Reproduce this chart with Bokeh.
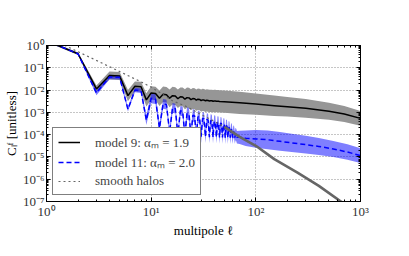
import numpy as np
from bokeh.plotting import figure
from bokeh.models import FixedTicker, CustomJSTickFormatter, LogAxis, Legend, LegendItem
from bokeh.embed import file_html
from bokeh.resources import INLINE

# ---- data (log10 values) ----
# model 9 (alpha_m = 1.9): per multipole up to 45, then sparse
black_ell = list(range(1, 46)) + [50, 70, 100, 150, 200, 300, 500, 700, 1000]
black_log = [0.21, -0.37, -1.95, -1.35, -1.37, -2.25, -1.83, -1.85, -2.44, -2.13,
             -2.15, -2.37, -2.19, -2.21, -2.37, -2.25, -2.27, -2.39, -2.30, -2.31,
             -2.41, -2.34, -2.35, -2.43, -2.38, -2.39, -2.45, -2.41, -2.42, -2.47,
             -2.44, -2.45, -2.48, -2.46, -2.47, -2.49, -2.48, -2.48, -2.50, -2.49,
             -2.49, -2.50, -2.50, -2.50, -2.51,
             -2.52, -2.57, -2.63, -2.70, -2.75, -2.82, -2.95, -3.07, -3.27]
black_err = [0.05, 0.06, 0.15, 0.18, 0.18, 0.25, 0.22, 0.22, 0.30, 0.30,
             0.30, 0.35, 0.35, 0.35, 0.40, 0.40, 0.40, 0.42, 0.42, 0.42,
             0.45, 0.45, 0.45, 0.47, 0.47, 0.47, 0.48, 0.48, 0.48, 0.50,
             0.50, 0.50, 0.50, 0.50, 0.50, 0.50, 0.50, 0.50, 0.50, 0.50,
             0.50, 0.50, 0.50, 0.50, 0.50,
             0.50, 0.50, 0.48, 0.46, 0.44, 0.42, 0.38, 0.36, 0.33]

# model 11 (alpha_m = 2.0): per multipole up to 66, then sparse
blue_ell = list(range(1, 67)) + [70, 80, 100, 130, 170, 220, 300, 400, 550, 750, 1000]
blue_log = [0.21, -0.37, -2.13, -1.41, -1.43, -2.86, -2.00, -2.03, -3.35, -2.37,
            -2.40, -3.71, -2.62, -2.65, -3.89, -2.80, -2.83, -4.01, -2.93, -2.96,
            -4.05, -3.05, -3.08, -4.07, -3.13, -3.16, -4.08, -3.20, -3.23, -4.09,
            -3.27, -3.29, -4.10, -3.32, -3.34, -4.11, -3.37, -3.39, -4.12, -3.41,
            -3.43, -4.12, -3.45, -3.47, -4.13, -3.49, -3.51, -4.13, -3.54, -3.56,
            -4.14, -3.60, -3.62, -4.14, -3.67, -3.70, -4.14, -3.76, -3.80, -4.14,
            -3.86, -3.90, -4.13, -3.97, -4.02, -4.12,
            -4.12, -4.16, -4.19, -4.23, -4.30, -4.37, -4.45, -4.53, -4.64, -4.78, -4.94]
blue_err = [0.03, 0.03, 0.10, 0.10, 0.10, 0.10, 0.10, 0.10, 0.22, 0.22,
            0.22, 0.22, 0.22, 0.22, 0.22, 0.22, 0.22, 0.22, 0.22, 0.22,
            0.28, 0.28, 0.28, 0.28, 0.28, 0.28, 0.28, 0.28, 0.28, 0.28,
            0.28, 0.28, 0.28, 0.28, 0.28, 0.28, 0.28, 0.28, 0.28, 0.28,
            0.28, 0.28, 0.28, 0.28, 0.28, 0.28, 0.28, 0.28, 0.28, 0.28,
            0.28, 0.28, 0.28, 0.28, 0.28, 0.28, 0.28, 0.28, 0.28, 0.28,
            0.28, 0.28, 0.28, 0.28, 0.28, 0.28,
            0.30, 0.35, 0.40, 0.42, 0.42, 0.41, 0.40, 0.38, 0.36, 0.35, 0.33]

# smooth halos
halo_ell = [1, 2, 3, 4, 5, 7, 8, 10, 12, 16, 22, 30, 40, 50, 70, 100, 150, 250, 400, 640, 1000]
halo_log = [0.40, -0.28, -0.67, -0.95, -1.17, -1.50, -1.63, -1.87, -2.10, -2.48, -2.75,
            -3.10, -3.40, -3.65, -4.10, -4.50, -5.10, -5.70, -6.30, -6.98, -7.60]

labels = ["model 9: \u03b1\u2098 = 1.9", "model 11: \u03b1\u2098 = 2.0", "smooth halos"]

# ---- conversion ----
bl = np.array(black_log); be = np.array(black_err)
ul = np.array(blue_log); ue = np.array(blue_err)
hl = np.array(halo_log)
split = halo_ell.index(50)

SERIF = "Liberation Serif"

p = figure(width=393, height=240, x_axis_type="log", y_axis_type="log",
           x_range=(1, 1000), y_range=(1e-7, 1),
           output_backend="svg", toolbar_location=None,
           min_border_left=44, min_border_right=33, min_border_top=45, min_border_bottom=24)
p.background_fill_color = "white"
p.border_fill_color = "white"
p.outline_line_color = "black"
p.outline_line_width = 1

r_gband = p.varea(x=black_ell, y1=10 ** (bl - be), y2=10 ** (bl + be), fill_color="#969696", fill_alpha=1.0)
r_bband = p.varea(x=blue_ell, y1=10 ** (ul - ue), y2=10 ** (ul + ue), fill_color="blue", fill_alpha=0.5)
r_black = p.line(black_ell, 10 ** bl, line_color="black", line_width=1.5)
r_blue = p.line(blue_ell, 10 ** ul, line_color="blue", line_width=1.5, line_dash="5 3")
r_halo = p.line(halo_ell[:split + 1], 10 ** hl[:split + 1], line_color="#666666", line_width=1.2, line_dash="2 3")
r_halo2 = p.line(halo_ell[split:], 10 ** hl[split:], line_color="#666666", line_width=2.6)

# ---- axes ----
xt = [1, 10, 100, 1000]
yt = [10.0 ** k for k in range(-7, 1)]
xminor = [m * 10.0 ** k for k in range(0, 3) for m in range(2, 10)]
yminor = [m * 10.0 ** k for k in range(-7, 0) for m in range(2, 10)]
fmt_code = """
const sup = {'-':'\u207b','0':'\u2070','1':'\u00b9','2':'\u00b2','3':'\u00b3','4':'\u2074','5':'\u2075','6':'\u2076','7':'\u2077','8':'\u2078','9':'\u2079'};
const e = Math.round(Math.log10(tick));
return '10' + String(e).split('').map(c => sup[c]).join('');
"""
fmt = CustomJSTickFormatter(code=fmt_code)
blank = CustomJSTickFormatter(code="return '';")

def style(ax, ticks, minor, formatter):
    ax.ticker = FixedTicker(ticks=ticks, minor_ticks=minor)
    ax.formatter = formatter
    ax.axis_line_color = "black"
    ax.major_tick_in = 4
    ax.major_tick_out = 0
    ax.minor_tick_in = 2
    ax.minor_tick_out = 0
    ax.major_tick_line_color = "black"
    ax.minor_tick_line_color = "black"
    ax.major_label_text_font = SERIF
    ax.major_label_text_font_size = "13px"
    ax.major_label_text_color = "#333333"
    ax.major_label_standoff = 2
    ax.axis_label_text_font = SERIF
    ax.axis_label_text_font_size = "13px"
    ax.axis_label_text_font_style = "normal"
    ax.axis_label_text_color = "black"
    ax.axis_label_standoff = 1

style(p.xaxis[0], xt, xminor, fmt)
style(p.yaxis[0], yt, yminor, fmt)
p.xaxis[0].axis_label = "multipole \u2113"
p.yaxis[0].axis_label = "C\u2097\u1da0 [unitless]"

top = LogAxis()
style(top, xt, xminor, blank)
p.add_layout(top, "above")
right = LogAxis()
style(right, yt, yminor, blank)
p.add_layout(right, "right")

p.xgrid.ticker = FixedTicker(ticks=xt)
p.ygrid.ticker = FixedTicker(ticks=yt)
for g in (p.xgrid[0], p.ygrid[0]):
    g.grid_line_color = "#8c8c8c"
    g.grid_line_dash = "1 2"
    g.grid_line_width = 1

legend = Legend(items=[LegendItem(label=labels[0], renderers=[r_black]),
                       LegendItem(label=labels[1], renderers=[r_blue]),
                       LegendItem(label=labels[2], renderers=[r_halo])],
                location="bottom_left")
legend.margin = 6
legend.padding = 5
legend.spacing = 2
legend.glyph_width = 22
legend.glyph_height = 16
legend.label_height = 16
legend.label_standoff = 15
legend.label_text_font = SERIF
legend.label_text_font_size = "13px"
legend.border_line_color = "black"
legend.border_line_width = 1
legend.background_fill_color = "white"
legend.background_fill_alpha = 1.0
p.add_layout(legend, "center")

open("out.html", "w").write(file_html(p, INLINE))
